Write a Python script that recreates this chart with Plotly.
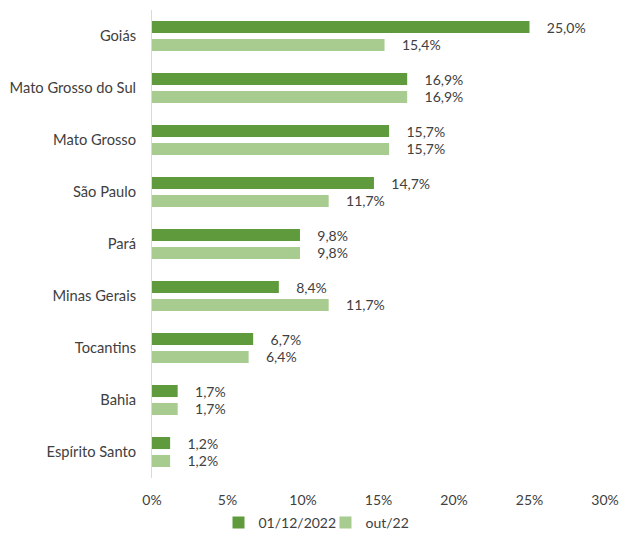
import plotly.graph_objects as go

categories = ["Goiás", "Mato Grosso do Sul", "Mato Grosso", "São Paulo", "Pará",
              "Minas Gerais", "Tocantins", "Bahia", "Espírito Santo"]
serie_dez = [25.0, 16.9, 15.7, 14.7, 9.8, 8.4, 6.7, 1.7, 1.2]
serie_out = [15.4, 16.9, 15.7, 11.7, 9.8, 11.7, 6.4, 1.7, 1.2]
names = ["01/12/2022", "out/22"]
colors = ["#5F9B3C", "#A8CB90"]
tick_vals = [0, 5, 10, 15, 20, 25, 30]
tick_text = ["0%", "5%", "10%", "15%", "20%", "25%", "30%"]

FONT = "Lato"
TXT = "#404040"

fig = go.Figure()
for name, vals, col in zip(names, [serie_dez, serie_out], colors):
    fig.add_trace(go.Bar(
        y=categories, x=vals, name=name, orientation="h",
        marker=dict(color=col, line=dict(width=0)),
        texttemplate="    %{x:.1f}%", textposition="outside",
        constraintext="none",
        textfont=dict(family=FONT, size=14, color=TXT),
        cliponaxis=False,
    ))

fig.update_layout(
    width=622, height=533,
    margin=dict(l=152, r=17, t=10, b=55, autoexpand=False),
    paper_bgcolor="white", plot_bgcolor="white",
    barmode="group", bargap=0.31, bargroupgap=0.33,
    separators=",.",
    font=dict(family=FONT, size=14, color=TXT),
    showlegend=True,
    legend=dict(orientation="h", x=0.383, xanchor="center", y=-0.096, yanchor="middle",
                font=dict(family=FONT, size=14, color=TXT), itemwidth=30,
                entrywidth=62, entrywidthmode="pixels",
                traceorder="normal"),
    xaxis=dict(range=[0, 30], tickvals=tick_vals, ticktext=tick_text, showgrid=False,
               zeroline=False, showline=False, ticks="", ticklabelstandoff=12,
               automargin=False,
               tickfont=dict(family=FONT, size=14, color=TXT)),
    yaxis=dict(autorange="reversed", showgrid=False, showline=True, linecolor="#D9D9D9",
               linewidth=1, ticks="", ticklabelstandoff=12, automargin=False,
               tickfont=dict(family=FONT, size=14.7, color=TXT)),
)

fig.write_html("out.html")
